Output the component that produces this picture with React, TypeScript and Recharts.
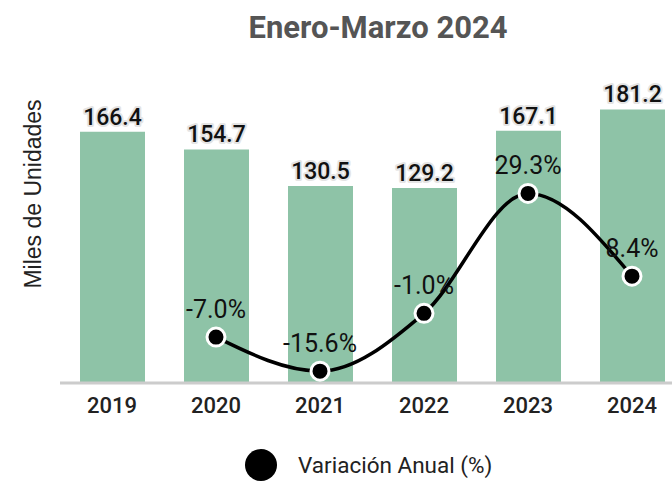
import { Bar, ComposedChart, LabelList, Line, XAxis, YAxis } from 'recharts';

const years = ['2019', '2020', '2021', '2022', '2023', '2024'];
const units = [166.4, 154.7, 130.5, 129.2, 167.1, 181.2];
const variation: (number | null)[] = [null, -7.0, -15.6, -1.0, 29.3, 8.4];

const data = years.map((year, i) => ({
  year,
  units: units[i],
  variation: variation[i],
}));

const FONT = 'Roboto, "Noto Sans", sans-serif';

// eslint-disable-next-line @typescript-eslint/no-explicit-any
function BarValue(props: any) {
  const { x, y, width, value } = props;
  return (
    <text
      x={x + width / 2}
      y={y - 7}
      textAnchor="middle"
      fontFamily={FONT}
      fontSize={23}
      fontWeight={500}
      fill="#111"
      stroke="#e4e4e4"
      strokeWidth={4}
      strokeLinejoin="round"
      paintOrder="stroke"
    >
      {value.toFixed(1)}
    </text>
  );
}

// eslint-disable-next-line @typescript-eslint/no-explicit-any
function VarValue(props: any) {
  const { x, y, value } = props;
  if (value == null) return null;
  return (
    <text x={x} y={y - 19} textAnchor="middle" fontFamily={FONT} fontSize={25} fill="#111">
      {`${value.toFixed(1)}%`}
    </text>
  );
}

function AxisTitle() {
  return (
    <text
      x={0}
      y={0}
      transform="translate(33 194) rotate(-90)"
      textAnchor="middle"
      dominantBaseline="central"
      fontFamily='"Liberation Sans", Arial, sans-serif'
      fontSize={23}
      fill="#222"
    >
      Miles de Unidades
    </text>
  );
}

export default function App() {
  return (
    <div
      style={{
        position: 'fixed',
        left: 0,
        top: 0,
        width: 672,
        height: 483,
        overflow: 'hidden',
        background: '#fff',
        fontFamily: FONT,
      }}
    >
      <div
        style={{
          position: 'absolute',
          left: 0,
          width: 756,
          top: 9,
          textAlign: 'center',
          fontSize: 31,
          fontWeight: 700,
          color: '#555',
          lineHeight: '38px',
        }}
      >
        Enero-Marzo 2024
      </div>

      <ComposedChart
        width={700}
        height={483}
        data={data}
        margin={{ top: 81, right: 16, left: 0, bottom: 70 }}
      >
        <XAxis
          dataKey="year"
          height={30}
          tickLine={false}
          tickMargin={8}
          axisLine={{ stroke: '#cccccc', strokeWidth: 3 }}
          tick={{ fill: '#222', fontSize: 22, fontWeight: 500, fontFamily: FONT }}
        />
        <YAxis
          yAxisId="left"
          width={60}
          domain={[0, 200]}
          tick={false}
          axisLine={false}
          tickLine={false}
          label={<AxisTitle />}
        />
        <YAxis yAxisId="right" orientation="right" hide domain={[-18.6, 57.7]} />
        <Bar yAxisId="left" dataKey="units" fill="#8ec3a7" barSize={65} isAnimationActive={false}>
          <LabelList dataKey="units" content={<BarValue />} />
        </Bar>
        <Line
          yAxisId="right"
          type="monotone"
          dataKey="variation"
          stroke="#000"
          strokeWidth={3.5}
          dot={{ r: 9, fill: '#000', stroke: '#fff', strokeWidth: 3 }}
          activeDot={false}
          isAnimationActive={false}
        >
          <LabelList dataKey="variation" content={<VarValue />} />
        </Line>
      </ComposedChart>

      <div
        style={{
          position: 'absolute',
          left: 245,
          top: 449,
          display: 'flex',
          alignItems: 'center',
          gap: 21,
        }}
      >
        <span
          style={{ width: 32, height: 32, borderRadius: '50%', background: '#000', display: 'inline-block' }}
        />
        <span style={{ fontSize: 22.5, color: '#222' }}>Variación Anual (%)</span>
      </div>
    </div>
  );
}
